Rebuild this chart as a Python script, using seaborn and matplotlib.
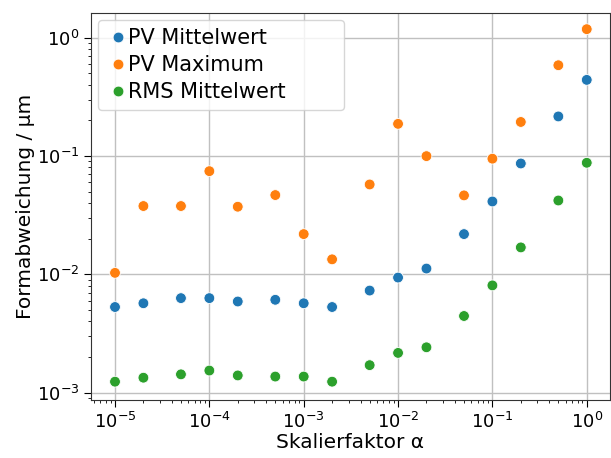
import numpy as np
import pandas as pd
import matplotlib
matplotlib.use("Agg")
import matplotlib.pyplot as plt
import seaborn as sns

# Skalierfaktoren
alpha = [1e-5, 2e-5, 5e-5, 1e-4, 2e-4, 5e-4, 1e-3, 2e-3,
         5e-3, 1e-2, 2e-2, 5e-2, 1e-1, 2e-1, 5e-1, 1e0]

# Formabweichungen in µm
pv_mittel = [5.3e-3, 5.7e-3, 6.3e-3, 6.3e-3, 5.9e-3, 6.1e-3, 5.7e-3, 5.3e-3,
             7.3e-3, 9.4e-3, 1.12e-2, 2.19e-2, 4.13e-2, 8.65e-2, 0.216, 0.44]
pv_max = [1.03e-2, 3.78e-2, 3.78e-2, 7.45e-2, 3.73e-2, 4.68e-2, 2.19e-2, 1.34e-2,
          5.75e-2, 0.187, 0.0998, 4.65e-2, 0.095, 0.194, 0.585, 1.18]
rms_mittel = [1.24e-3, 1.34e-3, 1.43e-3, 1.54e-3, 1.40e-3, 1.37e-3, 1.37e-3, 1.24e-3,
              1.71e-3, 2.17e-3, 2.42e-3, 4.45e-3, 8.07e-3, 1.69e-2, 4.21e-2, 8.77e-2]

series = ["PV Mittelwert", "PV Maximum", "RMS Mittelwert"]

df = pd.DataFrame({
    "alpha": alpha * 3,
    "wert": pv_mittel + pv_max + rms_mittel,
    "reihe": np.repeat(series, len(alpha)),
})

plt.rcParams["font.family"] = ["DejaVu Sans"]
fig = plt.figure(figsize=(6.11, 4.58), dpi=100)
ax = fig.add_axes([0.149, 0.127, 0.849, 0.845])

sns.scatterplot(data=df, x="alpha", y="wert", hue="reihe", hue_order=series,
                palette=["#1f77b4", "#ff7f0e", "#2ca02c"], s=60,
                edgecolor="white", linewidth=0.6, ax=ax, zorder=3)

ax.set_xscale("log")
ax.set_yscale("log")
ax.set_xlim(10 ** -5.254, 10 ** 0.244)
ax.set_ylim(10 ** -3.06, 10 ** 0.21)
ax.grid(True, which="major", color="#c0c0c0", linewidth=1.0)
ax.tick_params(axis="both", which="major", labelsize=13, length=5)
ax.tick_params(axis="both", which="minor", length=2.5)
for sp in ax.spines.values():
    sp.set_color("#333333")

ax.set_xlabel("Skalierfaktor α", fontsize=14.5, labelpad=1)
ax.set_ylabel("Formabweichung / µm", fontsize=14.5, labelpad=1)

ax.legend(loc="upper left", bbox_to_anchor=(0.0135, 0.0, 0.474, 0.982),
          mode="expand", borderaxespad=0.0, fontsize=15,
          handletextpad=-0.05, handlelength=1.1, borderpad=0.4,
          labelspacing=0.33, markerscale=1.0)

fig.savefig("out.png", dpi=100)
